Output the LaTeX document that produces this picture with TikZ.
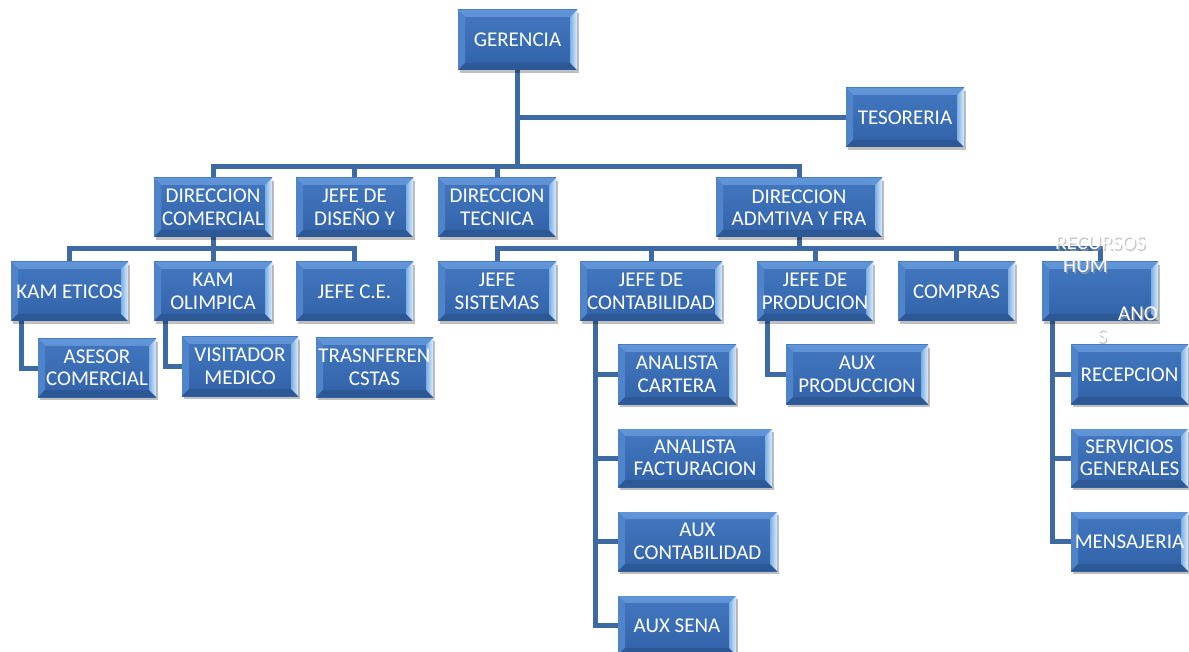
\documentclass[tikz,border=0pt]{standalone}
\usepackage{fontspec}
\setmainfont{Carlito}
\usetikzlibrary{shadows,backgrounds}
\definecolor{faceT}{RGB}{66,120,192}
\definecolor{faceB}{RGB}{50,98,168}
\definecolor{bvTop}{RGB}{98,150,216}
\definecolor{bvLeft}{RGB}{80,132,202}
\definecolor{bvRight}{RGB}{122,176,230}
\definecolor{bvBot}{RGB}{44,88,150}
\definecolor{lineC}{RGB}{62,106,164}
\tikzset{
  box/.style={rectangle, inner sep=0pt, top color=faceT, bottom color=faceB,
    text=white, align=center, font=\fontsize{21}{22.5}\selectfont,
    drop shadow={shadow xshift=2pt, shadow yshift=-3pt, opacity=0.25, fill=black},
    path picture={
      \shade[top color=bvTop, bottom color=faceT] (path picture bounding box.north west) -- (path picture bounding box.north east)
        -- ([shift={(-7pt,-7pt)}]path picture bounding box.north east)
        -- ([shift={(7pt,-7pt)}]path picture bounding box.north west) -- cycle;
      \fill[bvLeft] (path picture bounding box.north west) -- (path picture bounding box.south west)
        -- ([shift={(7pt,7pt)}]path picture bounding box.south west)
        -- ([shift={(7pt,-7pt)}]path picture bounding box.north west) -- cycle;
      \fill[bvBot] (path picture bounding box.south west) -- (path picture bounding box.south east)
        -- ([shift={(-7pt,7pt)}]path picture bounding box.south east)
        -- ([shift={(7pt,7pt)}]path picture bounding box.south west) -- cycle;
      \shade[left color=bvRight, right color=white!75!bvRight]
        (path picture bounding box.north east) -- (path picture bounding box.south east)
        -- ([shift={(-7pt,7pt)}]path picture bounding box.south east)
        -- ([shift={(-7pt,-7pt)}]path picture bounding box.north east) -- cycle;
    }},
  conn/.style={draw=lineC, line width=5pt},
  ghost/.style={font=\fontsize{21}{22.5}\selectfont, text=white, inner sep=0pt, anchor=base west},
  ghostsh/.style={ghost, text=black!35, opacity=0.6},
}
\begin{document}
\begin{tikzpicture}[x=1pt,y=-1pt]
\useasboundingbox (0,0) rectangle (1189,652);
% level 1
\node[box, minimum width=119pt, minimum height=60pt] (ger) at (517.5,40) {GERENCIA};
\node[box, minimum width=118pt, minimum height=59pt] (tes) at (905,117.5) {TESORERIA};
% level 2
\node[box, minimum width=118pt, minimum height=59pt] (dc) at (213,207.5) {DIRECCION\\COMERCIAL};
\node[box, minimum width=117pt, minimum height=59pt] (jd) at (354.5,207.5) {JEFE DE\\DISEÑO Y};
\node[box, minimum width=118pt, minimum height=59pt] (dt) at (497,207.5) {DIRECCION\\TECNICA};
\node[box, minimum width=166pt, minimum height=59pt] (da) at (799,207.5) {DIRECCION\\ADMTIVA Y FRA};
% level 3
\node[box, minimum width=117pt, minimum height=59pt] (ke) at (69.5,291.5) {KAM ETICOS};
\node[box, minimum width=118pt, minimum height=59pt] (ko) at (213,291.5) {KAM\\OLIMPICA};
\node[box, minimum width=117pt, minimum height=59pt] (jce) at (354.5,291.5) {JEFE C.E.};
\node[box, minimum width=118pt, minimum height=59pt] (js) at (497,291.5) {JEFE\\SISTEMAS};
\node[box, minimum width=142pt, minimum height=59pt] (jc) at (651,291.5) {JEFE DE\\CONTABILIDAD};
\node[box, minimum width=116pt, minimum height=59pt] (jp) at (815,291.5) {JEFE DE\\PRODUCION};
\node[box, minimum width=117pt, minimum height=59pt] (co) at (956.5,291.5) {COMPRAS};
\node[box, minimum width=116pt, minimum height=59pt] (rh) at (1100,291.5) {};
% level 4
\node[box, minimum width=118pt, minimum height=58pt] (as) at (97,368) {ASESOR\\COMERCIAL};
\node[box, minimum width=116pt, minimum height=59pt] (vi) at (240,366.5) {VISITADOR\\MEDICO};
\node[box, minimum width=117pt, minimum height=59pt] (tr) at (374.5,367.5) {TRASNFEREN\\CSTAS};
\node[box, minimum width=118pt, minimum height=59pt] (ac) at (677,374.5) {ANALISTA\\CARTERA};
\node[box, minimum width=154pt, minimum height=58pt] (af) at (695,458) {ANALISTA\\FACTURACION};
\node[box, minimum width=159pt, minimum height=59pt] (acon) at (697.5,541.5) {AUX\\CONTABILIDAD};
\node[box, minimum width=118pt, minimum height=59pt] (asena) at (677,625.5) {AUX SENA};
\node[box, minimum width=142pt, minimum height=59pt] (ap) at (857,374.5) {AUX\\PRODUCCION};
\node[box, minimum width=117pt, minimum height=59pt] (rec) at (1129.5,374.5) {RECEPCION};
\node[box, minimum width=117pt, minimum height=58pt] (sg) at (1129.5,458) {SERVICIOS\\GENERALES};
\node[box, minimum width=117pt, minimum height=59pt] (men) at (1129.5,541.5) {MENSAJERIA};
% overflowing text of RECURSOS HUMANOS
\node[ghostsh] (rh1s) at (1056.5,251.5) {RECURSOS};
\node[ghost] (rh1) at (1055,250) {RECURSOS};
\node[ghostsh] (rh2s) at (1064.5,274.5) {HUM};
\node[ghost] (rh2) at (1063,273) {HUM};
\node[ghostsh] (rh3s) at (1119.5,322.5) {ANO};
\node[ghost] (rh3) at (1118,321) {ANO};
\node[ghostsh] (rh4s) at (1098.5,344.5) {S};
\node[ghost] (rh4) at (1097,343) {S};
% connectors
\begin{pgfonlayer}{background}
\fill[white] (0,0) rectangle (1189,652);
\coordinate (b1) at (0,167);
\coordinate (b2) at (0,249);
\draw[conn] (ger.south) -- (ger.south |- b1);
\draw[conn] (ger.south) |- (tes.west);
\draw[conn] (ger.south |- b1) -| (dc.north);
\draw[conn] (ger.south |- b1) -| (jd.north);
\draw[conn] (ger.south |- b1) -| (dt.north);
\draw[conn] (ger.south |- b1) -| (da.north);
\draw[conn] (dc.south) -- (ko.north);
\draw[conn] (dc.south |- b2) -| (ke.north);
\draw[conn] (dc.south |- b2) -| (jce.north);
\draw[conn] (da.south) -- (da.south |- b2);
\draw[conn] (da.south |- b2) -| (js.north);
\draw[conn] (da.south |- b2) -| (jc.north);
\draw[conn] (da.south |- b2) -| (jp.north);
\draw[conn] (da.south |- b2) -| (co.north);
\draw[conn] (da.south |- b2) -| (rh.north);
\draw[conn] ([xshift=11pt]ke.south west) |- (as.west);
\draw[conn] ([xshift=12pt]ko.south west) |- (vi.west);
\draw[conn] ([xshift=16pt]jc.south west) |- (ac.west);
\draw[conn] ([xshift=16pt]jc.south west) |- (af.west);
\draw[conn] ([xshift=16pt]jc.south west) |- (acon.west);
\draw[conn] ([xshift=16pt]jc.south west) |- (asena.west);
\draw[conn] ([xshift=11pt]jp.south west) |- (ap.west);
\draw[conn] ([xshift=11pt]rh.south west) |- (rec.west);
\draw[conn] ([xshift=11pt]rh.south west) |- (sg.west);
\draw[conn] ([xshift=11pt]rh.south west) |- (men.west);
\end{pgfonlayer}
\end{tikzpicture}
\end{document}
